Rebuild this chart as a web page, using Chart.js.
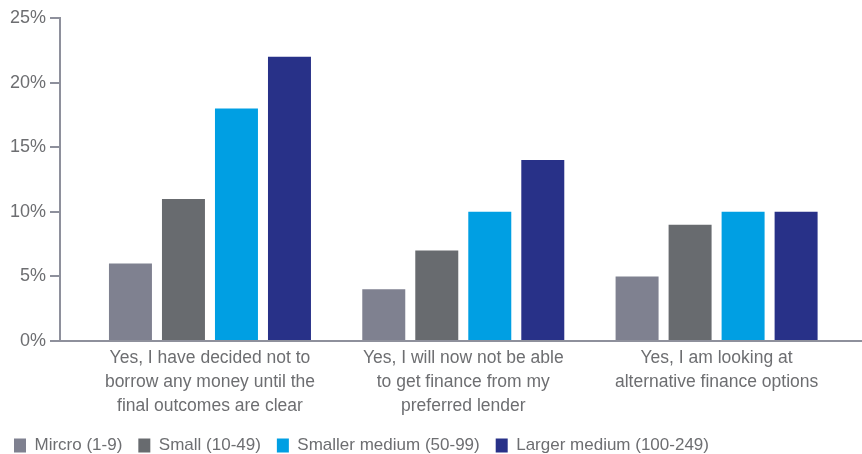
<!DOCTYPE html>
<html>
<head>
<meta charset="utf-8">
<script src="https://cdn.jsdelivr.net/npm/chart.js@4"></script>
<style>
  html, body { margin: 0; padding: 0; background: #fff; }
  #wrap { width: 862px; height: 454px; }
</style>
</head>
<body>
<div id="wrap"><canvas id="chart"></canvas></div>
<script>
const categories = [
    ['Yes, I have decided not to', 'borrow any money until the', 'final outcomes are clear'],
    ['Yes, I will now not be able', 'to get finance from my', 'preferred lender'],
    ['Yes, I am looking at', 'alternative finance options']
];
const seriesNames = ['Mircro (1-9)', 'Small (10-49)', 'Smaller medium (50-99)', 'Larger medium (100-249)'];
const micro = [6, 4, 5];
const small = [11, 7, 9];
const smallerMedium = [18, 10, 10];
const largerMedium = [22, 14, 10];
const yTicks = [0, 5, 10, 15, 20, 25];

const colors = ['#7f8190', '#686b6f', '#009fe3', '#283188'];
const textColor = '#6d6e71';
const axisColor = '#8e909c';

const toPoints = vals => vals.map((v, i) => ({ x: i, y: v }));
const allSeries = [micro, small, smallerMedium, largerMedium];

new Chart(document.getElementById('chart'), {
    type: 'bar',
    data: {
        datasets: allSeries.map((vals, i) => ({
            label: seriesNames[i],
            data: toPoints(vals),
            backgroundColor: colors[i],
            categoryPercentage: 0.837,
            barPercentage: 0.811
        }))
    },
    options: {
        responsive: true,
        maintainAspectRatio: false,
        animation: false,
        layout: { padding: { top: 18, left: -2, right: 0, bottom: -10 } },
        plugins: {
            tooltip: { enabled: false },
            legend: {
                position: 'bottom',
                align: 'start',
                labels: {
                    boxWidth: 12,
                    boxHeight: 14,
                    padding: 16,
                    color: textColor,
                    font: { family: 'Liberation Sans', size: 17 }
                }
            }
        },
        scales: {
            x: {
                type: 'linear',
                offset: false,
                min: -0.592,
                max: 2.574,
                afterBuildTicks: scale => {
                    scale.ticks = categories.map((c, i) => ({ value: i }));
                },
                afterFit: scale => { scale.height = 80; },
                grid: { display: false },
                border: { display: true, color: axisColor, width: 2 },
                ticks: {
                    autoSkip: false,
                    maxRotation: 0,
                    padding: -3,
                    color: textColor,
                    font: { family: 'Liberation Sans', size: 17.5, lineHeight: 1.37 },
                    callback: v => categories[v] || ''
                }
            },
            y: {
                min: 0,
                max: 25,
                afterBuildTicks: scale => {
                    scale.ticks = yTicks.map(v => ({ value: v }));
                },
                afterFit: scale => { scale.width = 62; },
                grid: { drawOnChartArea: false, tickLength: 10, color: axisColor, lineWidth: 2 },
                border: { display: true, color: axisColor, width: 2 },
                ticks: {
                    padding: 4,
                    color: textColor,
                    font: { family: 'Liberation Sans', size: 18 },
                    callback: v => v + '%'
                }
            }
        }
    }
});
</script>
</body>
</html>
